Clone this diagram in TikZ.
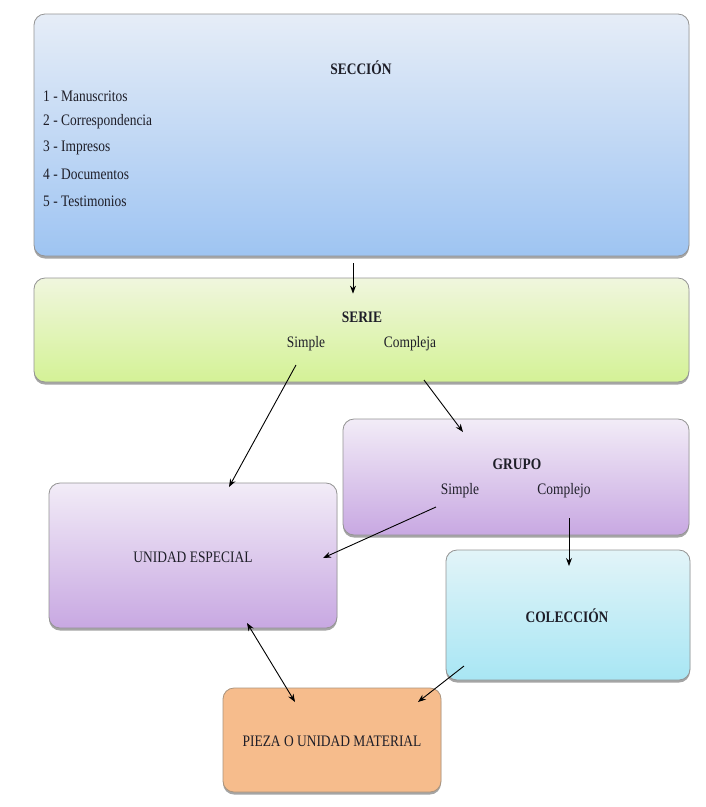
\documentclass[tikz,border=0pt]{standalone}
\usepackage{fontspec}
\setmainfont{Liberation Serif}[FakeStretch=0.84]
\usetikzlibrary{arrows.meta,shadows,calc}
\definecolor{secTop}{RGB}{230,237,247}
\definecolor{secBot}{RGB}{158,196,242}
\definecolor{serTop}{RGB}{240,246,222}
\definecolor{serBot}{RGB}{212,242,150}
\definecolor{purTop}{RGB}{242,236,247}
\definecolor{purBot}{RGB}{200,168,226}
\definecolor{colTop}{RGB}{226,244,248}
\definecolor{colBot}{RGB}{168,230,244}
\definecolor{piezaFill}{RGB}{246,188,140}
\definecolor{txt}{RGB}{30,30,40}
\tikzset{
  boxstyle/.style={draw=black!42, line width=0.8pt, rounded corners=11pt, inner sep=0pt,
    drop shadow={shadow xshift=0pt, shadow yshift=-2.5pt, opacity=0.5, fill=black!70}},
  lbl/.style={text=txt, inner sep=0pt, font=\fontsize{16}{18}\selectfont},
  ttl/.style={lbl, font=\fontsize{16}{18}\selectfont\bfseries},
  arr/.style={line width=0.9pt, -{Stealth[length=8pt,width=6pt]}},
  darr/.style={line width=0.9pt, {Stealth[length=8pt,width=6pt]}-{Stealth[length=8pt,width=6pt]}}
}
\begin{document}
\begin{tikzpicture}[x=1pt,y=-1pt]
\useasboundingbox (0,0) rectangle (706,807);
\fill[white] (0,0) rectangle (706,807);

% boxes
\node[boxstyle, top color=secTop, bottom color=secBot, minimum width=655pt, minimum height=242pt] (sec) at (361.5,135) {};
\node[boxstyle, top color=serTop, bottom color=serBot, minimum width=655pt, minimum height=104pt] (ser) at (361.5,330) {};
\node[boxstyle, top color=purTop, bottom color=purBot, minimum width=346pt, minimum height=116pt] (gru) at (516,477) {};
\node[boxstyle, top color=purTop, bottom color=purBot, minimum width=288pt, minimum height=145pt] (uni) at (193,555.5) {};
\node[boxstyle, top color=colTop, bottom color=colBot, minimum width=244pt, minimum height=130pt] (col) at (568,615) {};
\node[boxstyle, fill=piezaFill, draw=brown!60!black!60, minimum width=218pt, minimum height=104pt] (pie) at (332,740) {};

% texts
\node[ttl] (sect) at (361,68) {SECCIÓN};
\node[lbl, anchor=west] (s1) at (43,96) {1 - Manuscritos};
\node[lbl, anchor=west] (s2) at (43,122) {2 - Correspondencia};
\node[lbl, anchor=west] (s3) at (43,148) {3 - Impresos};
\node[lbl, anchor=west] (s4) at (43,174) {4 - Documentos};
\node[lbl, anchor=west] (s5) at (43,201) {5 - Testimonios};

\node[ttl] (sert) at (362,317) {SERIE};
\node[lbl] (sers) at (306,344) {Simple};
\node[lbl] (serc) at (410,344) {Compleja};

\node[ttl] (grut) at (517,464) {GRUPO};
\node[lbl] (grus) at (460,491) {Simple};
\node[lbl] (gruc) at (564,491) {Complejo};

\node[lbl] (unit) at (193,557) {UNIDAD ESPECIAL};
\node[ttl] (colt) at (567,616) {COLECCIÓN};
\node[lbl] (piet) at (332,741) {PIEZA O UNIDAD MATERIAL};

% connector end points
\coordinate (a1s) at ($(sec.south)+(-8.5,7)$);
\coordinate (a1e) at ($(ser.north)+(-8.5,16)$);
\coordinate (a2s) at (296,365);
\coordinate (a2e) at (229,487);
\coordinate (a3s) at (424,380);
\coordinate (a3e) at (463,432);
\coordinate (a4s) at (436,507);
\coordinate (a4e) at (323,558);
\coordinate (a5s) at (569,518);
\coordinate (a5e) at (569,566);
\coordinate (a6s) at (247,623);
\coordinate (a6e) at (295,702);
\coordinate (a7s) at (464,666);
\coordinate (a7e) at (418,702);

\draw[arr] (a1s) -- (a1e);
\draw[arr] (a2s) -- (a2e);
\draw[arr] (a3s) -- (a3e);
\draw[arr] (a4s) -- (a4e);
\draw[arr] (a5s) -- (a5e);
\draw[darr] (a6s) -- (a6e);
\draw[arr] (a7s) -- (a7e);
\end{tikzpicture}
\end{document}
